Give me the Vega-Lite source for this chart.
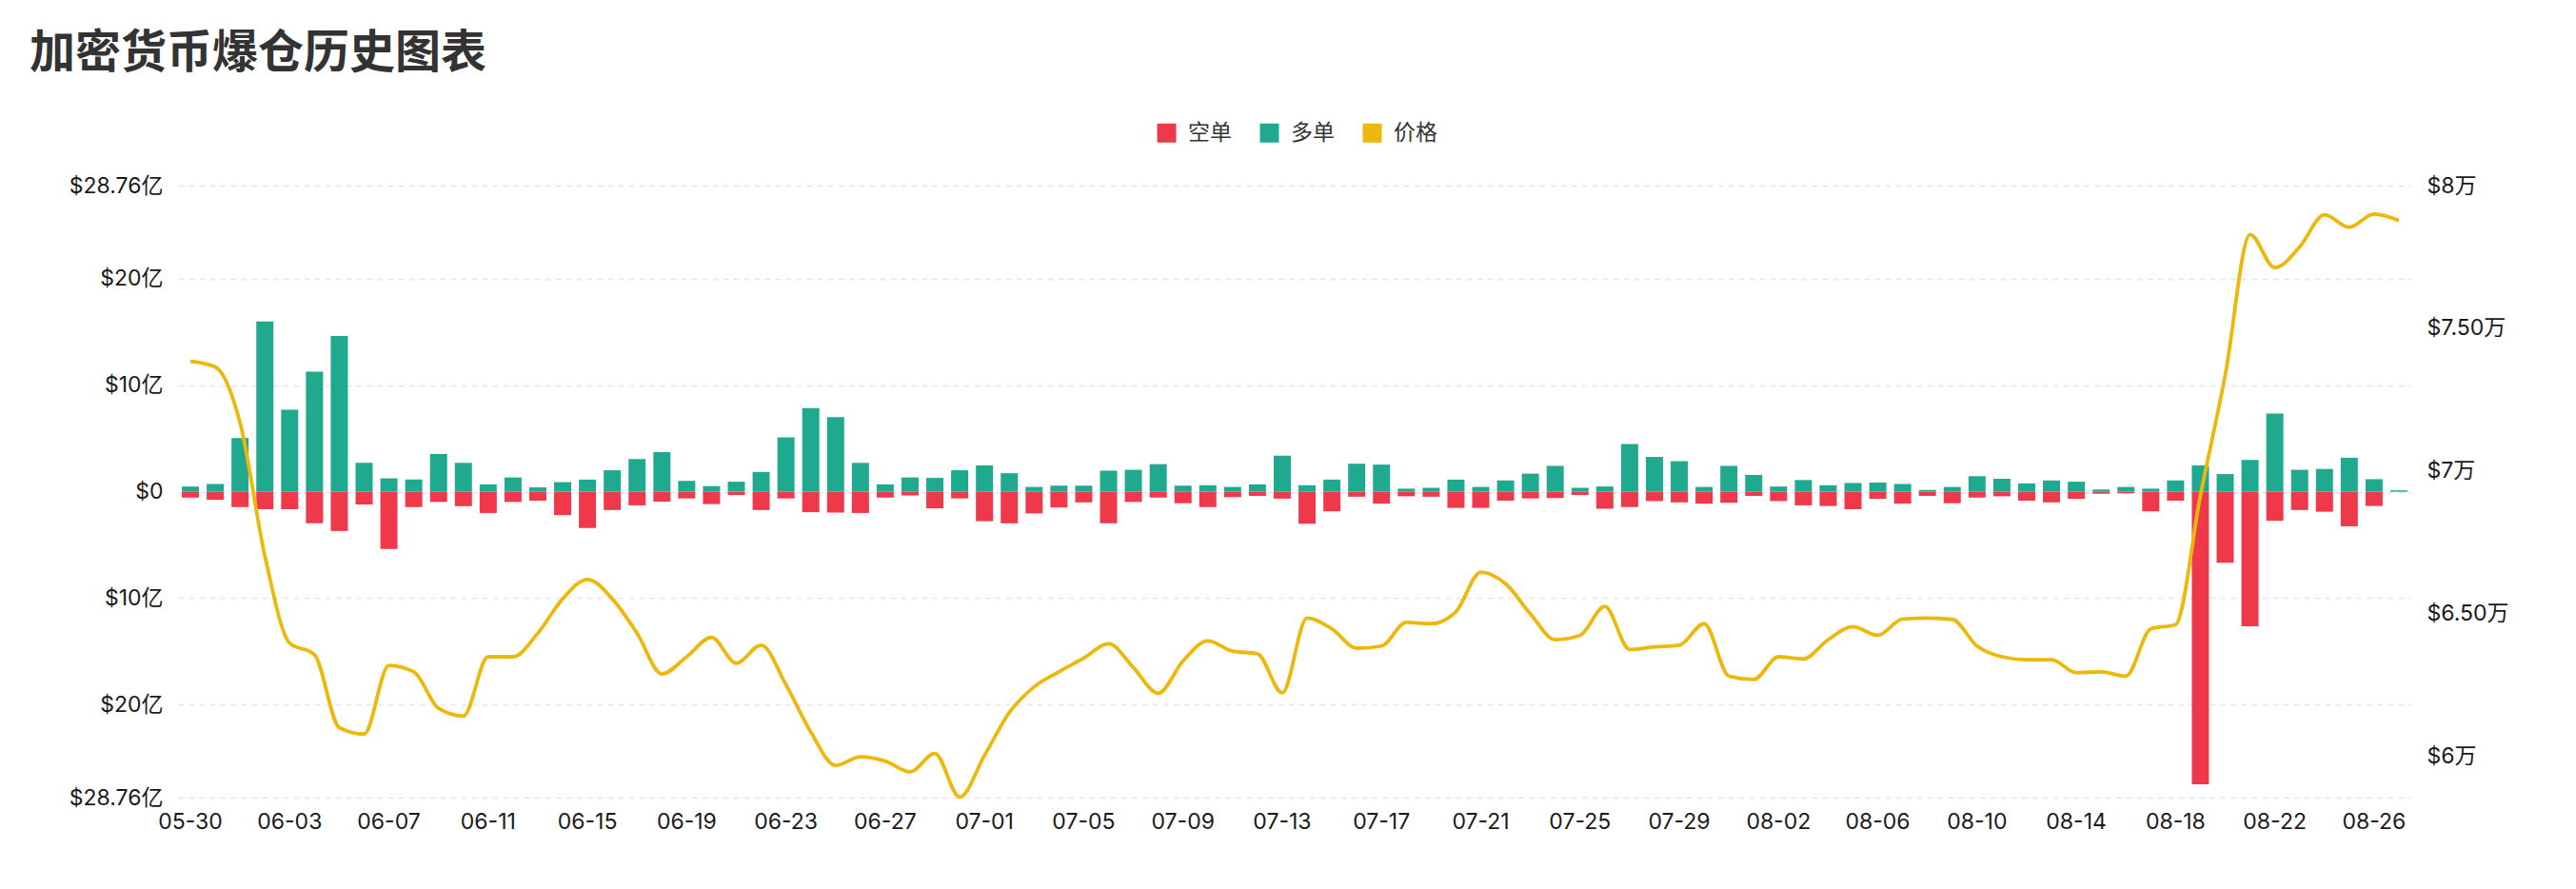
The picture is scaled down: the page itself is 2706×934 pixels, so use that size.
{
  "$schema": "https://vega.github.io/schema/vega-lite/v6.json",
  "autosize": {"type": "fit", "contains": "padding"},
  "width": 2706,
  "height": 934,
  "padding": {"left": 31, "right": 70, "top": 33, "bottom": 59},
  "background": "white",
  "title": {
    "text": "加密货币爆仓历史图表",
    "anchor": "start",
    "frame": "group",
    "dx": -156,
    "font": "Noto Sans CJK SC",
    "fontSize": 48,
    "fontWeight": "bold",
    "color": "#333333",
    "offset": 103
  },
  "config": {
    "font": "Inter, Noto Sans CJK SC",
    "view": {"stroke": null},
    "axis": {"labelFont": "Inter, Noto Sans CJK SC", "labelFontSize": 23, "labelColor": "#1a1a1a", "ticks": false, "domain": false, "title": null}
  },
  "data": {"values": [
    {"date":"05-30","多单":0.48,"空单":-0.56,"价格":73840},
    {"date":"05-31","多单":0.72,"空单":-0.77,"价格":73645},
    {"date":"06-01","多单":5.03,"空单":-1.45,"价格":71687},
    {"date":"06-02","多单":16.0,"空单":-1.65,"价格":67018},
    {"date":"06-03","多单":7.69,"空单":-1.65,"价格":63961},
    {"date":"06-04","多单":11.28,"空单":-2.98,"价格":63554},
    {"date":"06-05","多单":14.62,"空单":-3.70,"价格":60994},
    {"date":"06-06","多单":2.70,"空单":-1.21,"价格":60768},
    {"date":"06-07","多单":1.25,"空单":-5.40,"价格":63178},
    {"date":"06-08","多单":1.13,"空单":-1.45,"价格":62952},
    {"date":"06-09","多单":3.54,"空单":-0.97,"价格":61672},
    {"date":"06-10","多单":2.70,"空单":-1.37,"价格":61401},
    {"date":"06-11","多单":0.68,"空单":-2.01,"价格":63479},
    {"date":"06-12","多单":1.33,"空单":-0.97,"价格":63479},
    {"date":"06-13","多单":0.40,"空单":-0.85,"价格":64307},
    {"date":"06-14","多单":0.89,"空单":-2.21,"价格":65512},
    {"date":"06-15","多单":1.13,"空单":-3.42,"价格":66190},
    {"date":"06-16","多单":2.01,"空单":-1.73,"价格":65512},
    {"date":"06-17","多单":3.06,"空单":-1.29,"价格":64307},
    {"date":"06-18","多单":3.71,"空单":-0.93,"价格":62877},
    {"date":"06-19","多单":1.01,"空单":-0.64,"价格":63479},
    {"date":"06-20","多单":0.52,"空单":-1.17,"价格":64157},
    {"date":"06-21","多单":0.93,"空单":-0.32,"价格":63253},
    {"date":"06-22","多单":1.85,"空单":-1.73,"价格":63886},
    {"date":"06-23","多单":5.11,"空单":-0.64,"价格":62500},
    {"date":"06-24","多单":7.85,"空单":-1.93,"价格":60843},
    {"date":"06-25","多单":7.01,"空单":-1.97,"价格":59669},
    {"date":"06-26","多单":2.70,"空单":-2.01,"价格":59970},
    {"date":"06-27","多单":0.68,"空单":-0.56,"价格":59819},
    {"date":"06-28","多单":1.33,"空单":-0.36,"价格":59443},
    {"date":"06-29","多单":1.29,"空单":-1.57,"价格":60090},
    {"date":"06-30","多单":2.01,"空单":-0.64,"价格":58560},
    {"date":"07-01","多单":2.46,"空单":-2.78,"价格":60015},
    {"date":"07-02","多单":1.73,"空单":-2.98,"价格":61521},
    {"date":"07-03","多单":0.44,"空单":-2.05,"价格":62425},
    {"date":"07-04","多单":0.56,"空单":-1.49,"价格":62952},
    {"date":"07-05","多单":0.56,"空单":-1.01,"价格":63434},
    {"date":"07-06","多单":1.97,"空单":-2.98,"价格":63931},
    {"date":"07-07","多单":2.05,"空单":-0.97,"价格":63102},
    {"date":"07-08","多单":2.58,"空单":-0.56,"价格":62199},
    {"date":"07-09","多单":0.56,"空单":-1.09,"价格":63328},
    {"date":"07-10","多单":0.60,"空单":-1.45,"价格":64036},
    {"date":"07-11","多单":0.44,"空单":-0.52,"价格":63675},
    {"date":"07-12","多单":0.68,"空单":-0.40,"价格":63584},
    {"date":"07-13","多单":3.38,"空单":-0.66,"价格":62215},
    {"date":"07-14","多单":0.60,"空单":-3.02,"价格":64834},
    {"date":"07-15","多单":1.13,"空单":-1.85,"价格":64458},
    {"date":"07-16","多单":2.62,"空单":-0.48,"价格":63780},
    {"date":"07-17","多单":2.54,"空单":-1.13,"价格":63855},
    {"date":"07-18","多单":0.28,"空单":-0.44,"价格":64684},
    {"date":"07-19","多单":0.36,"空单":-0.48,"价格":64639},
    {"date":"07-20","多单":1.13,"空单":-1.53,"价格":65060},
    {"date":"07-21","多单":0.44,"空单":-1.53,"价格":66446},
    {"date":"07-22","多单":1.05,"空单":-0.85,"价格":66039},
    {"date":"07-23","多单":1.69,"空单":-0.64,"价格":64985},
    {"date":"07-24","多单":2.42,"空单":-0.60,"价格":64081},
    {"date":"07-25","多单":0.36,"空单":-0.32,"价格":64232},
    {"date":"07-26","多单":0.48,"空单":-1.61,"价格":65241},
    {"date":"07-27","多单":4.47,"空单":-1.45,"价格":63735},
    {"date":"07-28","多单":3.26,"空单":-0.89,"价格":63825},
    {"date":"07-29","多单":2.86,"空单":-1.01,"价格":63886},
    {"date":"07-30","多单":0.44,"空单":-1.13,"价格":64639},
    {"date":"07-31","多单":2.42,"空单":-1.05,"价格":62801},
    {"date":"08-01","多单":1.57,"空单":-0.40,"价格":62681},
    {"date":"08-02","多单":0.48,"空单":-0.89,"价格":63479},
    {"date":"08-03","多单":1.09,"空单":-1.29,"价格":63404},
    {"date":"08-04","多单":0.60,"空单":-1.35,"价格":64080},
    {"date":"08-05","多单":0.81,"空单":-1.65,"价格":64533},
    {"date":"08-06","多单":0.85,"空单":-0.68,"价格":64232},
    {"date":"08-07","多单":0.72,"空单":-1.13,"价格":64804},
    {"date":"08-08","多单":0.16,"空单":-0.40,"价格":64834},
    {"date":"08-09","多单":0.44,"空单":-1.09,"价格":64789},
    {"date":"08-10","多单":1.45,"空单":-0.56,"价格":63855},
    {"date":"08-11","多单":1.21,"空单":-0.44,"价格":63479},
    {"date":"08-12","多单":0.77,"空单":-0.85,"价格":63373},
    {"date":"08-13","多单":1.05,"空单":-1.01,"价格":63373},
    {"date":"08-14","多单":0.93,"空单":-0.68,"价格":62922},
    {"date":"08-15","多单":0.20,"空单":-0.20,"价格":62952},
    {"date":"08-16","多单":0.44,"空单":-0.16,"价格":62801},
    {"date":"08-17","多单":0.28,"空单":-1.85,"价格":64458},
    {"date":"08-18","多单":1.05,"空单":-0.85,"价格":64608},
    {"date":"08-19","多单":2.46,"空单":-27.5,"价格":69127},
    {"date":"08-20","多单":1.65,"空单":-6.69,"价格":73343},
    {"date":"08-21","多单":2.98,"空单":-12.65,"价格":78283},
    {"date":"08-22","多单":7.33,"空单":-2.74,"价格":77124},
    {"date":"08-23","多单":2.05,"空单":-1.73,"价格":77850},
    {"date":"08-24","多单":2.13,"空单":-1.89,"价格":78980},
    {"date":"08-25","多单":3.18,"空单":-3.26,"价格":78540},
    {"date":"08-26","多单":1.17,"空单":-1.35,"价格":79000},
    {"date":"08-27","多单":0.12,"空单":-0.02,"价格":78775}
  ]},
  "encoding": {
    "x": {
      "field": "date",
      "type": "ordinal",
      "sort": null,
      "scale": {"paddingInner": 0.31, "paddingOuter": 0.155},
      "axis": {
        "values": ["05-30","06-03","06-07","06-11","06-15","06-19","06-23","06-27","07-01","07-05","07-09","07-13","07-17","07-21","07-25","07-29","08-02","08-06","08-10","08-14","08-18","08-22","08-26"],
        "labelAngle": 0,
        "labelPadding": 14,
        "grid": false
      }
    }
  },
  "layer": [
    {
      "transform": [{"fold": ["空单", "多单"], "as": ["type", "value"]}],
      "mark": {"type": "bar"},
      "encoding": {
        "y": {
          "field": "value",
          "type": "quantitative",
          "stack": null,
          "scale": {"domain": [-28.76, 28.76], "nice": false, "zero": true},
          "axis": {
            "orient": "left",
            "values": [-28.76, -20, -10, 0, 10, 20, 28.76],
            "labelExpr": "datum.value == 0 ? '$0' : '$' + format(abs(datum.value), '') + '亿'",
            "labelPadding": 16,
            "grid": true,
            "gridColor": "#e6e6e6",
            "gridDash": [6, 5],
            "gridWidth": 1.5
          }
        },
        "color": {
          "field": "type",
          "type": "nominal",
          "scale": {"domain": ["空单", "多单", "价格"], "range": ["#F0384B", "#1FAA8F", "#ECB80C"]},
          "legend": {
            "orient": "none",
            "direction": "horizontal",
            "legendX": 1027,
            "legendY": -67,
            "title": null,
            "symbolType": "square",
            "symbolSize": 400,
            "symbolStrokeWidth": 0,
            "labelFontSize": 23,
            "labelFont": "Noto Sans CJK SC",
            "labelColor": "#333333",
            "labelOffset": 11,
            "columnPadding": 28,
            "padding": 0
          }
        }
      }
    },
    {
      "mark": {"type": "line", "interpolate": "monotone", "strokeWidth": 3.8},
      "encoding": {
        "y": {
          "field": "价格",
          "type": "quantitative",
          "scale": {"domain": [58540, 80000], "nice": false, "zero": false},
          "axis": {
            "orient": "right",
            "values": [60000, 65000, 70000, 75000, 80000],
            "labelExpr": "datum.value % 10000 == 0 ? '$' + (datum.value / 10000) + '万' : '$' + format(datum.value / 10000, '.2f') + '万'",
            "labelPadding": 16,
            "grid": false
          }
        },
        "color": {"datum": "价格", "type": "nominal"}
      }
    }
  ],
  "resolve": {"scale": {"y": "independent"}}
}
